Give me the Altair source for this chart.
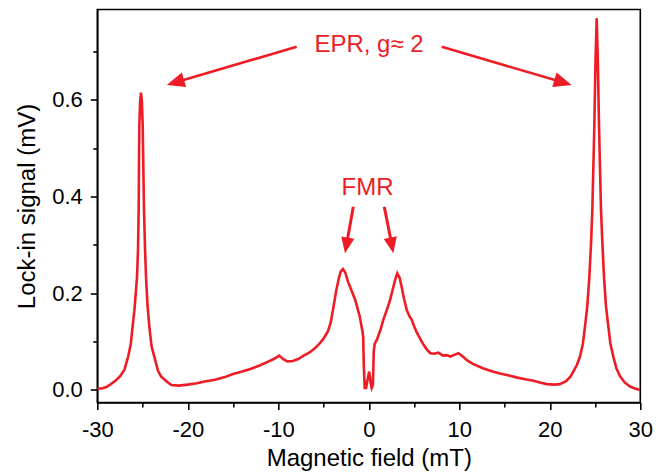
import math
import altair as alt
import pandas as pd

# ---- spectrum ----
field_mT = [
    -30.0, -29.5, -29.0, -28.5, -28.0, -27.5, -27.0, -26.6, -26.3, -26.1,
    -25.9, -25.75, -25.61, -25.5, -25.43, -25.36, -25.27, -25.17, -25.07, -24.98,
    -24.84, -24.72, -24.62, -24.45, -24.25, -24.0, -23.7, -23.3, -22.96, -22.3,
    -21.8, -21.0, -20.0, -19.0, -18.0, -17.0, -16.0, -15.0, -14.0, -13.0,
    -12.0, -11.3, -10.5, -9.9, -9.4, -9.0, -8.4, -7.8, -7.2, -6.5,
    -5.9, -5.4, -5.0, -4.5, -4.2, -3.9, -3.6, -3.35, -3.1, -2.85,
    -2.6, -2.3, -1.9, -1.5, -1.0, -0.7, -0.62, -0.55, -0.45, -0.3,
    -0.15, 0.05, 0.2, 0.32, 0.45, 0.55, 0.65, 0.9, 1.3, 1.6,
    2.0, 2.35, 2.7, 2.9, 3.15, 3.4, 3.65, 3.9, 4.2, 4.5,
    4.75, 5.0, 5.3, 5.7, 6.0, 6.4, 6.8, 7.2, 7.7, 8.2,
    8.6, 9.0, 9.5, 9.9, 10.4, 10.8, 11.5, 12.6, 13.5, 14.5,
    15.5, 16.3, 17.3, 18.2, 19.0, 19.7, 20.5, 21.1, 21.8, 22.3,
    22.6, 23.0, 23.34, 23.65, 23.89, 24.15, 24.37, 24.55, 24.7, 24.92,
    25.05, 25.18, 25.31, 25.44, 25.66, 25.82, 25.99, 26.2, 26.47, 26.7,
    27.02, 27.35, 27.76, 28.3, 28.86, 29.4, 30.0,
]
signal_mV = [
    0.003, 0.003, 0.006, 0.012, 0.019, 0.028, 0.042, 0.068, 0.095, 0.131,
    0.165, 0.200, 0.234, 0.290, 0.372, 0.545, 0.595, 0.615, 0.595, 0.545,
    0.372, 0.290, 0.234, 0.175, 0.131, 0.090, 0.069, 0.040, 0.028, 0.017,
    0.010, 0.009, 0.011, 0.014, 0.018, 0.021, 0.026, 0.033, 0.038, 0.044,
    0.051, 0.057, 0.064, 0.071, 0.063, 0.059, 0.060, 0.064, 0.071, 0.078,
    0.087, 0.097, 0.106, 0.122, 0.140, 0.172, 0.205, 0.228, 0.245, 0.250,
    0.243, 0.224, 0.205, 0.186, 0.152, 0.121, 0.110, 0.050, 0.004, 0.004,
    0.020, 0.038, 0.015, 0.004, 0.010, 0.080, 0.095, 0.104, 0.125, 0.145,
    0.166, 0.186, 0.212, 0.227, 0.241, 0.232, 0.212, 0.188, 0.165, 0.152,
    0.145, 0.132, 0.119, 0.105, 0.095, 0.084, 0.076, 0.075, 0.077, 0.071,
    0.072, 0.069, 0.073, 0.076, 0.069, 0.062, 0.054, 0.045, 0.039, 0.034,
    0.030, 0.026, 0.022, 0.019, 0.015, 0.012, 0.011, 0.012, 0.018, 0.028,
    0.038, 0.052, 0.069, 0.095, 0.131, 0.175, 0.234, 0.300, 0.372, 0.545,
    0.680, 0.769, 0.680, 0.545, 0.372, 0.300, 0.234, 0.175, 0.131, 0.095,
    0.069, 0.045, 0.028, 0.015, 0.007, 0.003, 0.000,
]

# ---- axes ----
x_domain = [-30, 30]
y_domain = [-0.026, 0.787]
x_ticks = [-30, -25, -20, -15, -10, -5, 0, 5, 10, 15, 20, 25, 30]
y_ticks = [0, 0.1, 0.2, 0.3, 0.4, 0.5, 0.6, 0.7]

# ---- annotations ----
label_text = ["EPR, g\u2248 2", "FMR"]
label_x = [0.02, -0.14]
label_y = [0.714, 0.417]

arrow_start_x = [-7.97, 8.06, -1.71, 1.71]
arrow_start_y = [0.710, 0.710, 0.379, 0.379]
arrow_base_x = [-20.85, 20.94, -2.40, 2.47]
arrow_base_y = [0.639, 0.639, 0.307, 0.307]
arrow_tip_x = [-22.33, 22.42, -2.63, 2.71]
arrow_tip_y = [0.631, 0.631, 0.283, 0.283]
arrow_head_size = [1296, 1296, 1000, 1000]
arrow_width = [2.6, 2.6, 3.0, 3.0]

RED = "#EE1C25"
FONT = "Liberation Sans"
W, H = 543, 393

px_x = W / (x_domain[1] - x_domain[0])
px_y = H / (y_domain[1] - y_domain[0])
angles = []
for sx, sy, tx, ty in zip(arrow_start_x, arrow_start_y, arrow_tip_x, arrow_tip_y):
    dx = (tx - sx) * px_x
    dy = -(ty - sy) * px_y
    angles.append(math.degrees(math.atan2(dy, dx)) % 360)

spec = pd.DataFrame({"field": field_mT, "signal": signal_mV})
arrows = pd.DataFrame({
    "x": arrow_start_x, "y": arrow_start_y,
    "x2": arrow_base_x, "y2": arrow_base_y,
    "tx": arrow_tip_x, "ty": arrow_tip_y,
    "angle": angles, "size": arrow_head_size, "w": arrow_width,
})
labels = pd.DataFrame({"text": label_text, "x": label_x, "y": label_y})

xs = alt.Scale(domain=x_domain, nice=False, zero=False)
ys = alt.Scale(domain=y_domain, nice=False, zero=False)

x_axis = alt.Axis(
    values=x_ticks, title="Magnetic field (mT)",
    labelExpr="datum.value % 10 == 0 ? '' + datum.value : ''",
    tickSize={"condition": {"test": "datum.value % 10 != 0", "value": 4.5}, "value": 7},
    labelFlush=False, labelOverlap=False, grid=False,
    labelPadding=10, titleFontSize=24,
    titleBaseline="alphabetic", titleY=63,
)
y_axis = alt.Axis(
    values=y_ticks, title="Lock-in signal (mV)",
    labelExpr="round(datum.value * 10) % 2 == 0 ? format(datum.value, '.1f') : ''",
    tickSize={"condition": {"test": "round(datum.value * 10) % 2 != 0", "value": 4.5}, "value": 7},
    labelFlush=False, labelOverlap=False, grid=False,
    labelPadding=8, titlePadding=12,
)

line = alt.Chart(spec).mark_line(color=RED, strokeWidth=2.6, clip=True).encode(
    x=alt.X("field:Q", scale=xs, axis=x_axis),
    y=alt.Y("signal:Q", scale=ys, axis=y_axis),
)

shafts = alt.Chart(arrows).mark_rule(color=RED).encode(
    x=alt.X("x:Q", scale=xs), y=alt.Y("y:Q", scale=ys),
    x2="x2:Q", y2="y2:Q",
    strokeWidth=alt.StrokeWidth("w:Q", scale=None),
)

heads = alt.Chart(arrows).mark_point(
    shape="M0,0L-1,-0.42L-1,0.42Z", filled=True, color=RED, opacity=1, strokeWidth=0
).encode(
    x=alt.X("tx:Q", scale=xs), y=alt.Y("ty:Q", scale=ys),
    angle=alt.Angle("angle:Q", scale=None),
    size=alt.Size("size:Q", scale=None),
)

texts = alt.Chart(labels).mark_text(
    color=RED, font=FONT, fontSize=24, align="center", baseline="middle"
).encode(
    x=alt.X("x:Q", scale=xs), y=alt.Y("y:Q", scale=ys), text="text:N",
)

chart = alt.layer(line, shafts, heads, texts).properties(
    width=W, height=H,
    autosize=alt.AutoSizeParams(type="none"),
    padding={"left": 89.3, "top": 1.5, "right": 20, "bottom": 70},
    background="white",
).configure_view(
    stroke="black", strokeWidth=1.6,
).configure_axis(
    domainColor="black", domainWidth=1.6, tickColor="black", tickWidth=1.6,
    labelFont=FONT, labelFontSize=22, labelColor="black",
    titleFont=FONT, titleFontSize=24, titleColor="black", titleFontWeight="normal",
)

chart.save("out.html", embed_options={"renderer": "svg", "actions": False})
